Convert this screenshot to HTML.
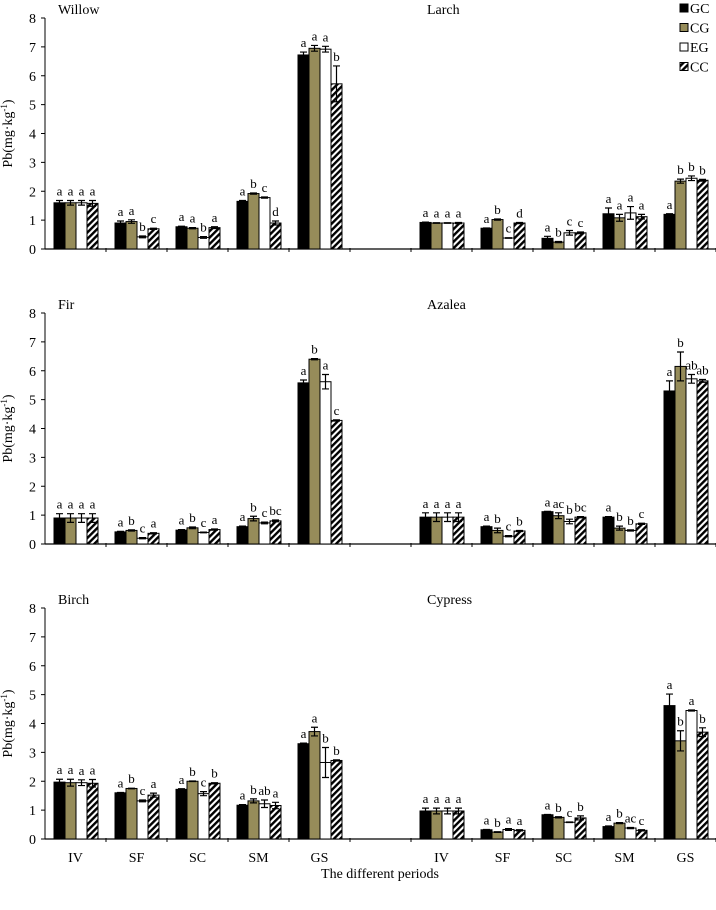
<!DOCTYPE html>
<html><head><meta charset="utf-8"><style>
html,body{margin:0;padding:0;background:#fff}
svg{display:block}
text{font-family:"Liberation Serif",serif;fill:#000}
</style></head><body>
<svg id="chart" width="716" height="910" viewBox="0 0 716 910" xmlns="http://www.w3.org/2000/svg">
<defs>
<pattern id="hatch" patternUnits="userSpaceOnUse" width="4.5" height="4.5" patternTransform="rotate(45)">
<rect width="4.5" height="4.5" fill="#fff"/><rect width="2.4" height="4.5" fill="#000"/>
</pattern>
</defs>
<g id="legend"></g>
</svg>
<script>
const periods = ["IV","SF","SC","SM","GS"];
const seriesNames = ["GC","CG","EG","CC"];
const yTicks = [0,1,2,3,4,5,6,7,8];
const species = ["Willow","Larch","Fir","Azalea","Birch","Cypress"];
// values[species][period][series]
const willowVals = [[1.6,1.6,1.6,1.58],[0.9,0.95,0.42,0.7],[0.77,0.72,0.4,0.74],[1.65,1.92,1.78,0.9],[6.72,6.95,6.92,5.72]];
const willowErr  = [[0.08,0.08,0.08,0.1],[0.07,0.06,0.03,0.02],[0.02,0.02,0.03,0.03],[0.03,0.02,0.02,0.07],[0.1,0.1,0.1,0.62]];
const larchVals  = [[0.92,0.9,0.9,0.9],[0.72,1.02,0.38,0.9],[0.37,0.24,0.56,0.56],[1.22,1.08,1.25,1.12],[1.2,2.35,2.45,2.38]];
const larchErr   = [[0.01,0.01,0.01,0.02],[0.01,0.02,0.01,0.02],[0.07,0.02,0.08,0.03],[0.2,0.12,0.22,0.08],[0.02,0.07,0.08,0.03]];
const firVals    = [[0.9,0.9,0.9,0.9],[0.42,0.47,0.2,0.37],[0.48,0.56,0.4,0.5],[0.6,0.88,0.73,0.8],[5.58,6.4,5.62,4.28]];
const firErr     = [[0.15,0.15,0.15,0.15],[0.02,0.02,0.02,0.02],[0.02,0.03,0.01,0.02],[0.02,0.08,0.03,0.03],[0.1,0.02,0.25,0.02]];
const azaleaVals = [[0.93,0.93,0.93,0.93],[0.6,0.47,0.27,0.45],[1.12,0.98,0.78,0.93],[0.93,0.55,0.47,0.7],[5.3,6.15,5.72,5.65]];
const azaleaErr  = [[0.15,0.15,0.15,0.15],[0.02,0.08,0.02,0.02],[0.01,0.1,0.08,0.02],[0.02,0.07,0.02,0.02],[0.35,0.5,0.15,0.05]];
const birchVals  = [[1.97,1.95,1.95,1.93],[1.6,1.75,1.32,1.52],[1.72,2.0,1.57,1.93],[1.17,1.32,1.22,1.16],[3.3,3.72,2.65,2.72]];
const birchErr   = [[0.1,0.12,0.1,0.13],[0.01,0.01,0.03,0.07],[0.02,0.01,0.07,0.02],[0.02,0.07,0.13,0.11],[0.02,0.15,0.52,0.02]];
const cypressVals= [[0.97,0.97,0.97,0.97],[0.32,0.24,0.33,0.3],[0.84,0.75,0.58,0.73],[0.43,0.55,0.38,0.3],[4.62,3.4,4.45,3.7]];
const cypressErr = [[0.1,0.1,0.1,0.1],[0.01,0.01,0.03,0.02],[0.01,0.02,0.01,0.07],[0.02,0.02,0.02,0.02],[0.4,0.35,0.02,0.15]];
const willowLet  = [["a","a","a","a"],["a","a","b","c"],["a","a","b","a"],["a","b","c","d"],["a","a","a","b"]];
const larchLet   = [["a","a","a","a"],["a","b","c","d"],["a","b","c","c"],["a","a","a","a"],["a","b","b","b"]];
const firLet     = [["a","a","a","a"],["a","b","c","a"],["a","b","c","a"],["a","b","c","bc"],["a","b","a","c"]];
const azaleaLet  = [["a","a","a","a"],["a","b","c","b"],["a","ac","b","bc"],["a","b","b","c"],["a","b","ab","ab"]];
const birchLet   = [["a","a","a","a"],["a","b","c","a"],["a","b","c","b"],["a","b","ab","a"],["a","a","b","b"]];
const cypressLet = [["a","a","a","a"],["a","b","a","a"],["a","b","c","b"],["a","b","ac","c"],["a","b","a","b"]];

const panelVals = [[willowVals,larchVals],[firVals,azaleaVals],[birchVals,cypressVals]];
const panelErr = [[willowErr,larchErr],[firErr,azaleaErr],[birchErr,cypressErr]];
const panelLet = [[willowLet,larchLet],[firLet,azaleaLet],[birchLet,cypressLet]];

const NS="http://www.w3.org/2000/svg";
const svg=document.getElementById('chart');
function mk(tag,attrs,parent){const e=document.createElementNS(NS,tag);for(const k in attrs)e.setAttribute(k,attrs[k]);(parent||svg).appendChild(e);return e;}
const fills=["#000","#968c5a","#fff","url(#hatch)"];
const axisX=45, slotW=61, barW=11, groupOff=9;
const panelTop=[18,313,608], panelH=231;
function yScale(p,v){return panelTop[p]+panelH-v/8*panelH;}
function slotX(side,i){return axisX+(side*6+i)*slotW;}

for(let p=0;p<3;p++){
  const g=mk('g',{});
  
  
  const y0=yScale(p,0);
  // y axis
  const ya=mk('line',{x1:axisX,x2:axisX,y1:yScale(p,8),y2:y0,stroke:'#000','stroke-width':1},g);
  
  
  yTicks.forEach(t=>{
    mk('line',{x1:axisX-4,x2:axisX,y1:yScale(p,t),y2:yScale(p,t),stroke:'#000'},g);
    const tl=mk('text',{x:axisX-9,y:yScale(p,t)+5,'text-anchor':'end','font-size':14},g);
    tl.textContent=t;
    
    
  });
  const yt=mk('text',{x:0,y:0,'text-anchor':'middle','font-size':14,transform:`translate(12,${panelTop[p]+panelH/2}) rotate(-90)`},g);
  yt.innerHTML='Pb(mg·kg<tspan font-size="9" dy="-5">-1</tspan><tspan dy="5">)</tspan>';
  
  
  // x axis
  const xa=mk('line',{x1:axisX,x2:716,y1:y0,y2:y0,stroke:'#000','stroke-width':1.2},g);
  
  
  for(let k=1;k<=11;k++){mk('line',{x1:axisX+k*slotW,x2:axisX+k*slotW,y1:y0-1,y2:y0+3,stroke:'#000'},g);}
  for(let side=0;side<2;side++){
    const nm=mk('text',{x:side?427:58,y:panelTop[p]-4,'font-size':14},g);
    nm.textContent=species[p*2+side];
    
    
    const vals=panelVals[p][side], errs=panelErr[p][side], lets=panelLet[p][side];
    for(let i=0;i<5;i++){
      for(let s=0;s<4;s++){
        const x=slotX(side,i)+groupOff+s*barW;
        const v=vals[i][s], e=errs[i][s];
        const yv=yScale(p,v);
        const r=mk('rect',{x:x,y:yv,width:barW,height:y0-yv,fill:fills[s],stroke:'#000','stroke-width':1},g);
        
        
        const cx=x+barW/2, yt1=yScale(p,v+e), yb=yScale(p,Math.max(0,v-e));
        const eb=mk('path',{d:`M${cx},${yt1}V${yb}M${cx-3.5},${yt1}H${cx+3.5}M${cx-3.5},${yb}H${cx+3.5}`,stroke:'#000','stroke-width':1.2,fill:'none'},g);
        
        
        const lt=mk('text',{x:cx,y:yt1-5,'text-anchor':'middle','font-size':13},g);
        lt.textContent=lets[i][s];
        
        
      }
    }
  }
}
// x labels
for(let side=0;side<2;side++){
  periods.forEach((pd,i)=>{
    const t=mk('text',{x:slotX(side,i)+slotW/2,y:862,'text-anchor':'middle','font-size':14});
    t.textContent=pd;
    
    
  });
}
const xt=mk('text',{x:380,y:878,'text-anchor':'middle','font-size':14});
xt.textContent='The different periods';


// legend
const lg=document.getElementById('legend');
seriesNames.forEach((n,s)=>{
  const y=4+s*19.5;
  const r=mk('rect',{x:680,y:y,width:8,height:8,fill:fills[s],stroke:'#000','stroke-width':1},lg);
  
  
  const t=mk('text',{x:690,y:y+9,'font-size':14},lg);
  t.textContent=n;
  
  
});
</script>
</body></html>
